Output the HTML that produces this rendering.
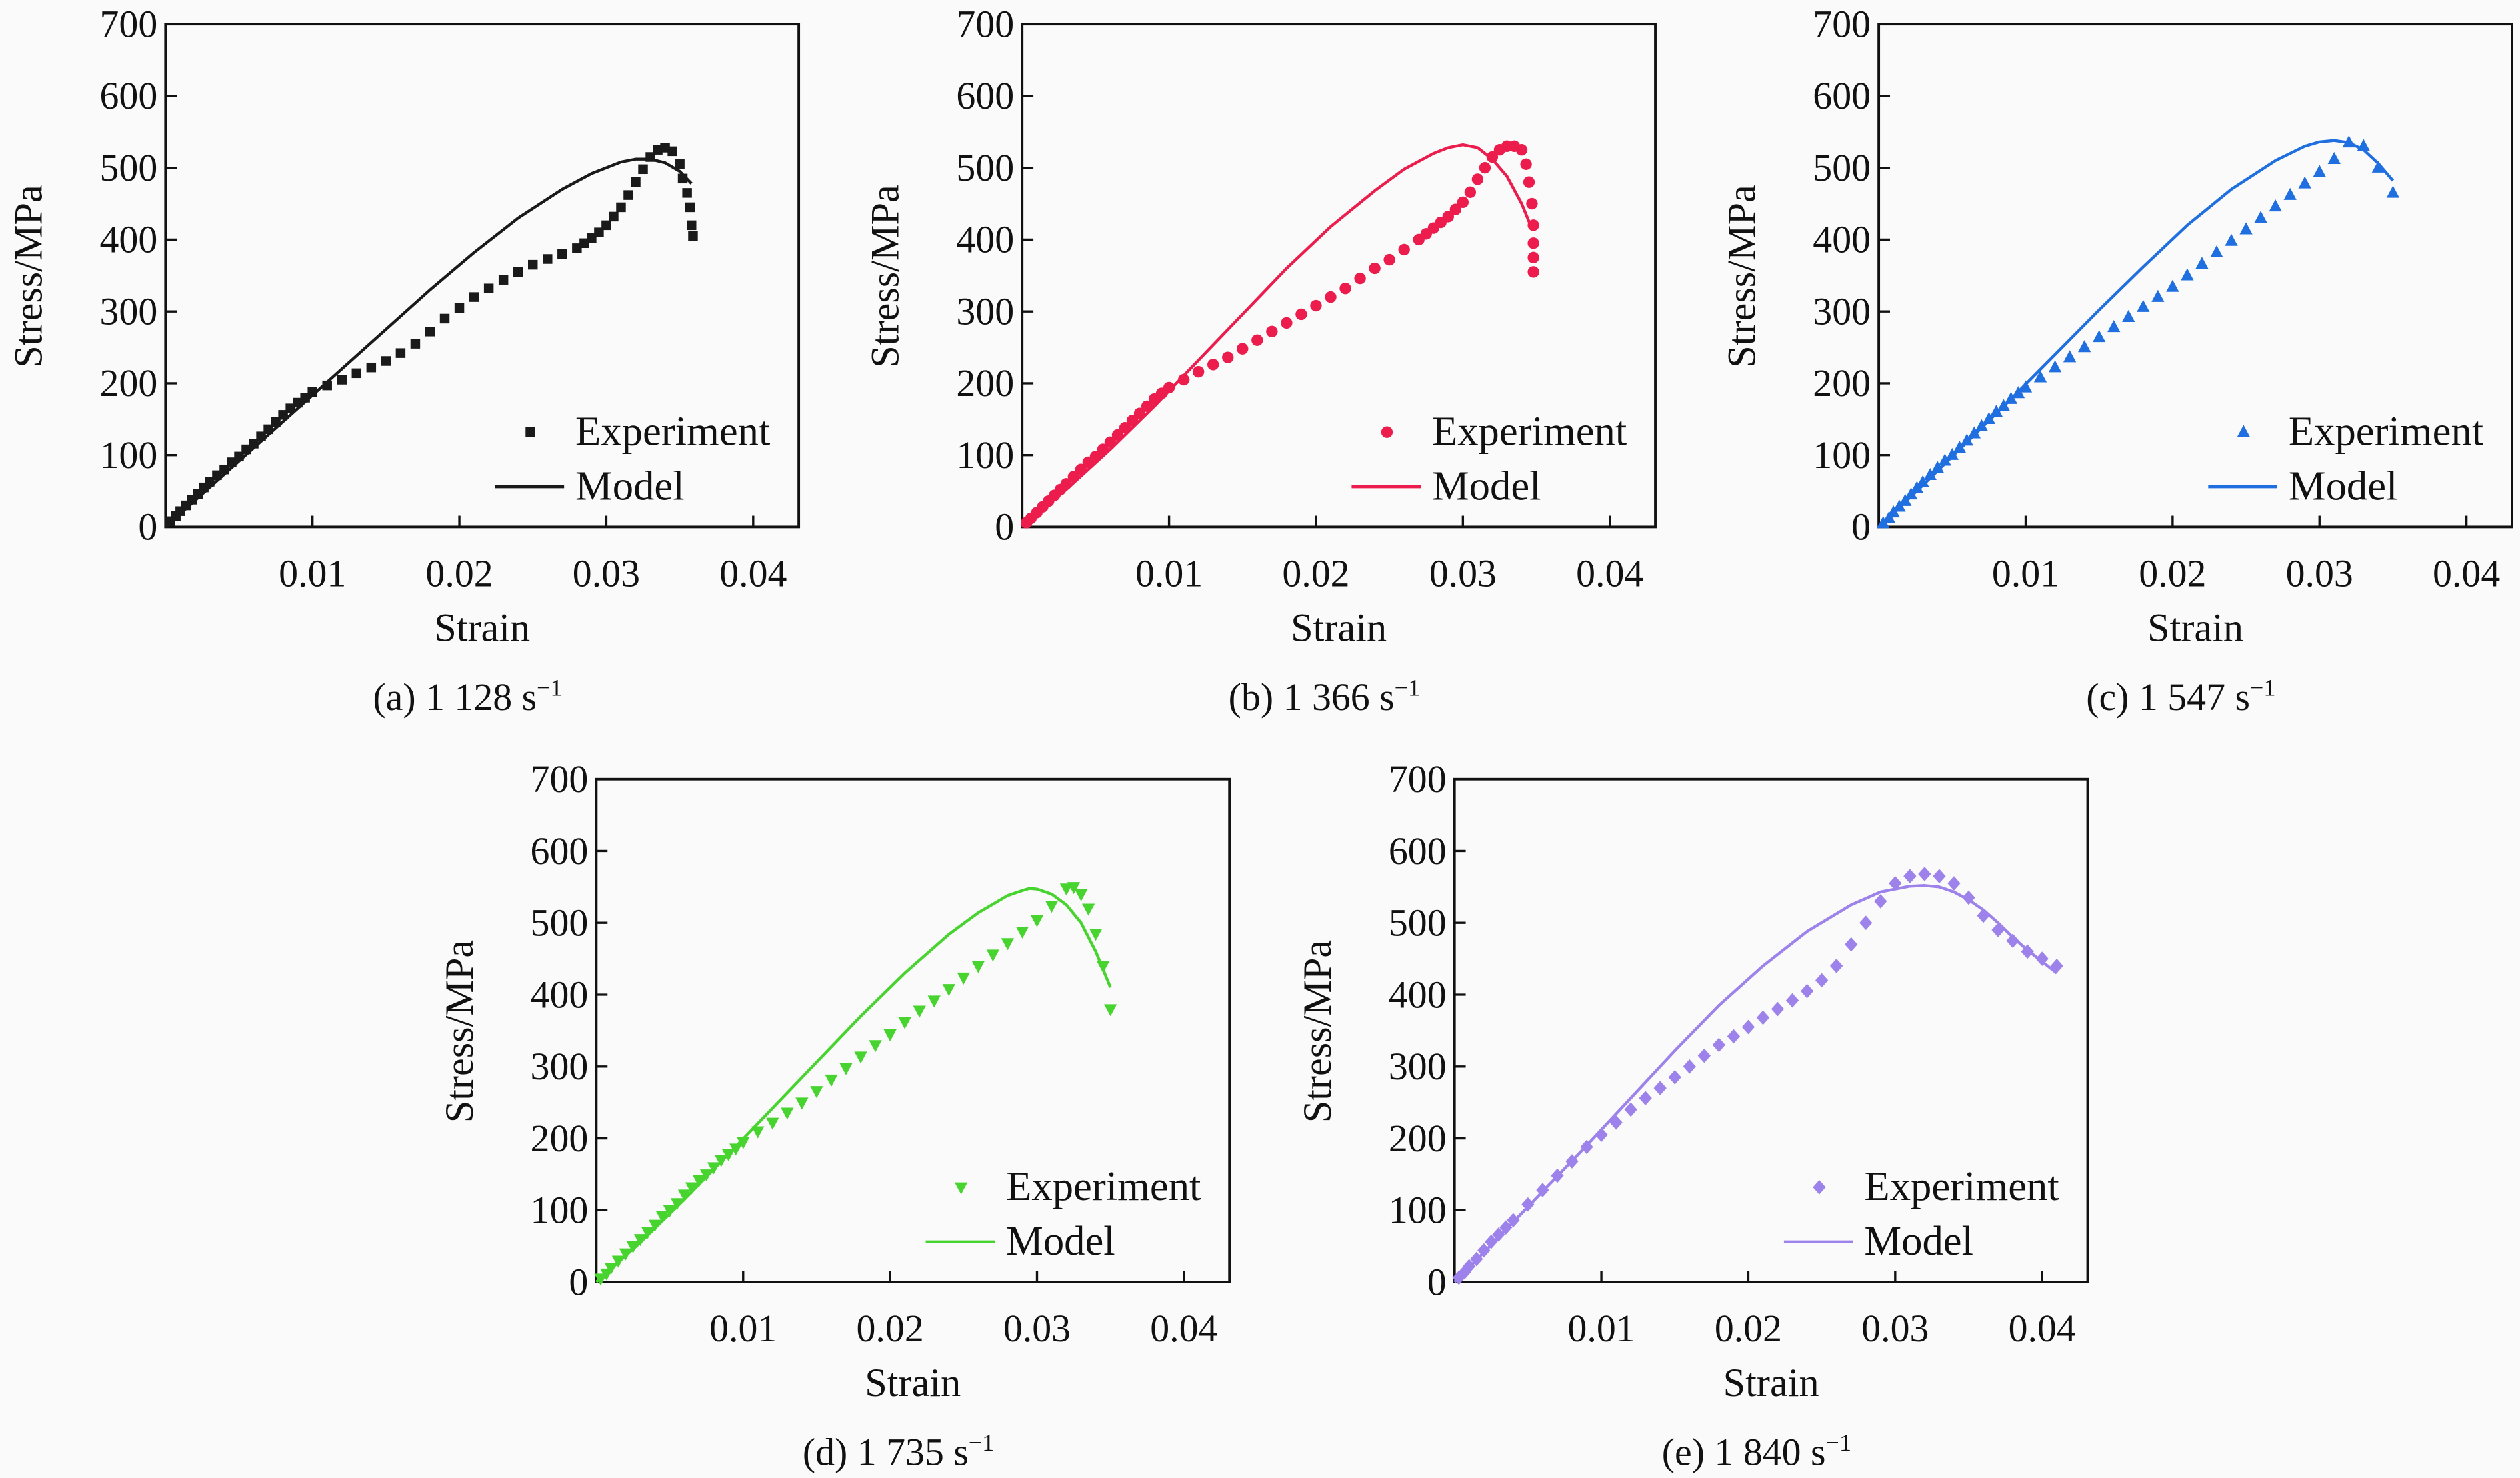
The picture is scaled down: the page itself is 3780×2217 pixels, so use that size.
<!DOCTYPE html>
<html><head><meta charset="utf-8"><style>
html,body{margin:0;padding:0;background:#fafafa;}
svg{display:block;font-family:"Liberation Serif","Times New Roman",serif;}
svg text{font-family:"Liberation Serif","Times New Roman",serif !important;fill:#111;}
</style></head>
<body>
<svg id="fig" width="3780" height="2217" viewBox="0 0 1568 920" preserveAspectRatio="none" font-family="Liberation Serif, serif" xmlns="http://www.w3.org/2000/svg">
<rect x="0" y="0" width="1568" height="920" fill="#fafafa"/>
</svg>
<script>
// ---- data (strain, stress MPa) ----
const xTicks = [0.01, 0.02, 0.03, 0.04];
const xTickLabels = ["0.01", "0.02", "0.03", "0.04"];
const yTicks = [0, 100, 200, 300, 400, 500, 600, 700];
const yTickLabels = ["0", "100", "200", "300", "400", "500", "600", "700"];
const captions = ["(a) 1 128 s", "(b) 1 366 s", "(c) 1 547 s", "(d) 1 735 s", "(e) 1 840 s"];

const modelA_x = [0,0.003,0.006,0.009,0.012,0.015,0.018,0.021,0.024,0.027,0.029,0.031,0.032,0.033,0.034,0.035,0.0358];
const modelA_y = [0,55,110,165,220,275,330,382,430,470,492,508,512,512,507,495,478];
const expA_x = [0.0003,0.0007,0.001,0.0014,0.0018,0.0022,0.0026,0.003,0.0035,0.004,0.0045,0.005,0.0055,0.006,0.0065,0.007,0.0075,0.008,0.0085,0.009,0.0095,0.01,0.011,0.012,0.013,0.014,0.015,0.016,0.017,0.018,0.019,0.02,0.021,0.022,0.023,0.024,0.025,0.026,0.027,0.028,0.0285,0.029,0.0295,0.03,0.0305,0.031,0.0315,0.032,0.0325,0.033,0.0335,0.034,0.0345,0.035,0.0352,0.0355,0.0357,0.0358,0.0359];
const expA_y = [8,15,22,30,38,46,55,63,72,80,90,98,108,116,126,136,146,156,165,173,180,188,197,205,214,222,231,242,255,272,290,305,320,332,344,355,365,373,380,388,395,402,410,420,432,445,462,480,498,515,525,528,523,505,485,465,445,420,405];

const modelB_x = [0,0.003,0.006,0.009,0.012,0.015,0.018,0.021,0.024,0.026,0.028,0.029,0.030,0.031,0.032,0.033,0.034,0.0346];
const modelB_y = [0,52,108,168,232,296,360,418,468,498,520,528,532,528,512,488,450,420];
const expB_x = [0.0003,0.0006,0.001,0.0014,0.0018,0.0022,0.0026,0.003,0.0035,0.004,0.0045,0.005,0.0055,0.006,0.0065,0.007,0.0075,0.008,0.0085,0.009,0.0095,0.01,0.011,0.012,0.013,0.014,0.015,0.016,0.017,0.018,0.019,0.02,0.021,0.022,0.023,0.024,0.025,0.026,0.027,0.0275,0.028,0.0285,0.029,0.0295,0.03,0.0305,0.031,0.0315,0.032,0.0325,0.033,0.0335,0.034,0.0343,0.0345,0.0347,0.0348,0.0348,0.0348,0.0348];
const expB_y = [6,12,20,28,36,44,52,60,70,80,90,98,108,118,128,138,148,158,168,178,186,194,205,216,226,236,248,260,272,284,296,308,320,332,346,360,372,386,400,408,416,424,432,442,452,466,484,500,515,525,530,530,525,505,480,450,420,395,375,355];

const modelC_x = [0,0.003,0.006,0.009,0.012,0.015,0.018,0.021,0.024,0.027,0.029,0.030,0.031,0.032,0.033,0.034,0.035];
const modelC_y = [0,58,118,178,240,302,362,420,470,510,530,536,538,535,525,506,482];
const expC_x = [0.0003,0.0007,0.001,0.0014,0.0018,0.0022,0.0026,0.003,0.0035,0.004,0.0045,0.005,0.0055,0.006,0.0065,0.007,0.0075,0.008,0.0085,0.009,0.0095,0.01,0.011,0.012,0.013,0.014,0.015,0.016,0.017,0.018,0.019,0.02,0.021,0.022,0.023,0.024,0.025,0.026,0.027,0.028,0.029,0.030,0.031,0.032,0.033,0.034,0.035];
const expC_y = [5,12,20,28,36,45,54,62,72,82,92,100,110,120,130,140,150,160,168,178,186,194,208,222,236,250,264,278,292,306,320,334,350,366,382,398,414,430,446,462,478,494,512,535,530,500,465];

const modelD_x = [0,0.003,0.006,0.009,0.012,0.015,0.018,0.021,0.024,0.026,0.028,0.029,0.0295,0.030,0.031,0.032,0.033,0.034,0.035];
const modelD_y = [0,55,115,178,242,306,370,430,484,514,538,545,548,547,540,525,500,460,410];
const expD_x = [0.0003,0.0007,0.001,0.0015,0.002,0.0025,0.003,0.0035,0.004,0.0045,0.005,0.0055,0.006,0.0065,0.007,0.0075,0.008,0.0085,0.009,0.0095,0.01,0.011,0.012,0.013,0.014,0.015,0.016,0.017,0.018,0.019,0.02,0.021,0.022,0.023,0.024,0.025,0.026,0.027,0.028,0.029,0.030,0.031,0.032,0.0325,0.033,0.0335,0.034,0.0345,0.035];
const expD_y = [5,12,20,30,40,50,60,70,80,92,100,110,122,132,142,150,160,170,178,186,195,210,222,236,250,266,282,298,314,330,345,362,378,392,408,424,440,456,472,488,504,524,548,550,540,520,485,440,380];

const modelE_x = [0,0.003,0.006,0.009,0.012,0.015,0.018,0.021,0.024,0.027,0.029,0.031,0.032,0.033,0.034,0.035,0.036,0.037,0.038,0.039,0.040,0.041];
const modelE_y = [0,62,126,190,256,322,385,440,488,525,543,551,552,550,543,532,518,500,480,462,446,430];
const expE_x = [0.0003,0.0007,0.001,0.0015,0.002,0.0025,0.003,0.0035,0.004,0.005,0.006,0.007,0.008,0.009,0.010,0.011,0.012,0.013,0.014,0.015,0.016,0.017,0.018,0.019,0.020,0.021,0.022,0.023,0.024,0.025,0.026,0.027,0.028,0.029,0.030,0.031,0.032,0.033,0.034,0.035,0.036,0.037,0.038,0.039,0.040,0.041];
const expE_y = [6,14,22,32,44,56,66,76,86,108,128,148,168,188,205,222,240,256,270,285,300,315,330,342,355,368,380,392,405,420,440,470,500,530,555,565,568,565,555,535,510,490,475,460,450,440];

const panelColors = ["#1a1a1a", "#ec1c4c", "#1f6fe0", "#47d42e", "#9c82ea"];
const markers = ["square", "circle", "triangle", "tri-down", "diamond"];
const panelLeft = [103, 636, 1169, 371, 905];
const panelTop = [15, 15, 15, 485, 485];
const panelModelX = [modelA_x, modelB_x, modelC_x, modelD_x, modelE_x];
const panelModelY = [modelA_y, modelB_y, modelC_y, modelD_y, modelE_y];
const panelExpX = [expA_x, expB_x, expC_x, expD_x, expE_x];
const panelExpY = [expA_y, expB_y, expC_y, expD_y, expE_y];

const NS = "http://www.w3.org/2000/svg";
const svg = document.getElementById("fig");
const W = 394, H = 313, XMAX = 0.0431, YMAX = 700;
const FONT = "Liberation Serif, Times New Roman, serif";

function mk(tag, attrs, parent) {
  const e = document.createElementNS(NS, tag);
  for (const k in attrs) e.setAttribute(k, attrs[k]);
  if (tag === "text") e.setAttribute("font-family", FONT);
  parent.appendChild(e);
  return e;
}
function marker(type, cx, cy, color, parent) {
  let e;
  if (type === "square") e = mk("rect", {x: cx-3, y: cy-3, width: 6, height: 6, fill: color}, parent);
  else if (type === "circle") e = mk("circle", {cx: cx, cy: cy, r: 3.6, fill: color}, parent);
  else if (type === "triangle") e = mk("polygon", {points: `${cx},${cy-4.5} ${cx-4},${cy+3} ${cx+4},${cy+3}`, fill: color}, parent);
  else if (type === "tri-down") e = mk("polygon", {points: `${cx},${cy+4.5} ${cx-4},${cy-3} ${cx+4},${cy-3}`, fill: color}, parent);
  else e = mk("polygon", {points: `${cx},${cy-4.5} ${cx+4},${cy} ${cx},${cy+4.5} ${cx-4},${cy}`, fill: color}, parent);
  return e;
}

for (let p = 0; p < 5; p++) {
  const L = panelLeft[p], T = panelTop[p], B = T + H, color = panelColors[p];
  const sx = v => L + v / XMAX * W;
  const sy = v => B - v / YMAX * H;
  const g = mk("g", {}, svg);
  
  

  const frame = mk("rect", {x: L, y: T, width: W, height: H, fill: "none", stroke: "#111", "stroke-width": 1.6}, g);
  
  

  yTicks.forEach((t, i) => {
    const y = sy(t);
    if (t > 0 && t < 700) {
      const tk = mk("line", {x1: L, x2: L + 7, y1: y, y2: y, stroke: "#111", "stroke-width": 1.4}, g);
      
      
    }
    const lb = mk("text", {x: L - 5, y: y + 8, "font-size": 24, "text-anchor": "end"}, g);
    lb.textContent = yTickLabels[i];
    
    
  });
  xTicks.forEach((t, i) => {
    const x = sx(t);
    const tk = mk("line", {x1: x, x2: x, y1: B, y2: B - 7, stroke: "#111", "stroke-width": 1.4}, g);
    
    
    const lb = mk("text", {x: x, y: B + 37, "font-size": 24, "text-anchor": "middle"}, g);
    lb.textContent = xTickLabels[i];
    
    
  });

  const xt = mk("text", {x: L + 197, y: B + 71, "font-size": 25, "text-anchor": "middle"}, g);
  xt.textContent = "Strain";
  
  

  const yt = mk("text", {x: 0, y: 0, "font-size": 25, "text-anchor": "middle", transform: `translate(${L - 77},${T + 157}) rotate(-90)`}, g);
  yt.textContent = "Stress/MPa";
  
  

  const cap = mk("text", {x: L + 188, y: B + 114, "font-size": 24, "text-anchor": "middle"}, g);
  cap.textContent = captions[p];
  const sup = mk("tspan", {"font-size": 15, dy: -9}, cap);
  sup.textContent = "\u22121";
  
  

  const eg = mk("g", {}, g);
  
  
  const ex = panelExpX[p], ey = panelExpY[p];
  for (let i = 0; i < ex.length; i++) {
    const m = marker(markers[p], sx(ex[i]), sy(ey[i]), color, eg);
    
    
  }
  const mx = panelModelX[p], my = panelModelY[p];
  let d = "";
  for (let i = 0; i < mx.length; i++) d += (i ? " L" : "M") + sx(mx[i]).toFixed(2) + "," + sy(my[i]).toFixed(2);
  const ml = mk("path", {d: d, fill: "none", stroke: color, "stroke-width": 1.8, "stroke-linejoin": "round"}, g);
  
  

  const lg = mk("g", {}, g);
  
  
  const lm = marker(markers[p], L + 227, T + 254, color, lg);
  
  
  const lt1 = mk("text", {x: L + 255, y: T + 262, "font-size": 26}, lg);
  lt1.textContent = "Experiment";
  
  
  const ll = mk("line", {x1: L + 205, x2: L + 248, y1: T + 288, y2: T + 288, stroke: color, "stroke-width": 1.8}, lg);
  
  
  const lt2 = mk("text", {x: L + 255, y: T + 296, "font-size": 26}, lg);
  lt2.textContent = "Model";
  
  
}
</script>
</body></html>
